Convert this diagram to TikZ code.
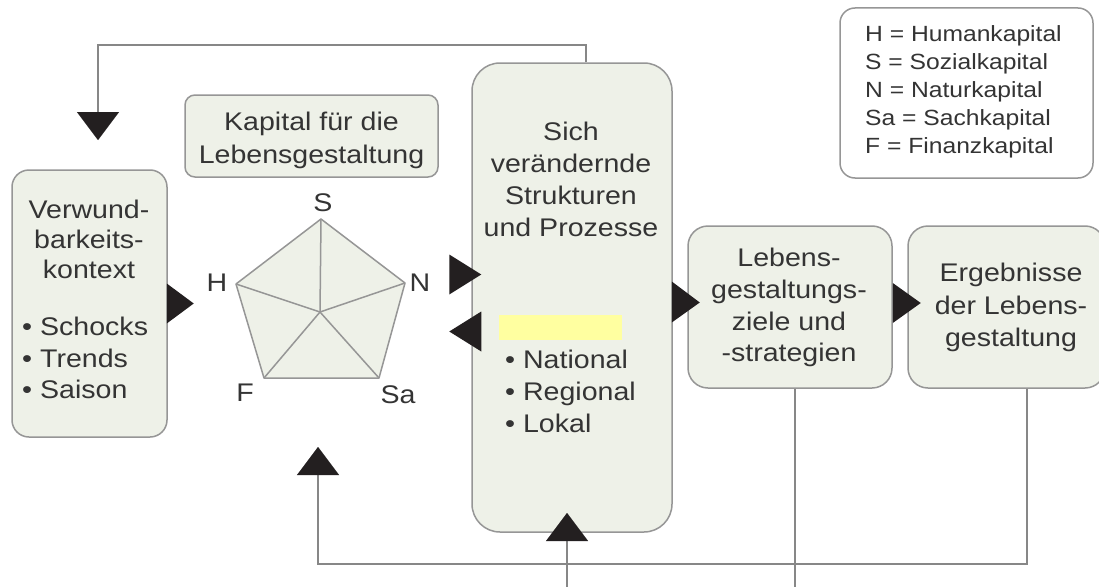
\documentclass[tikz,border=0pt]{standalone}
\usepackage{fontspec}
\setmainfont{Liberation Sans}[FakeStretch=1.12]
\usetikzlibrary{arrows.meta,calc}
\definecolor{boxfill}{RGB}{238,241,232}
\definecolor{boxline}{RGB}{150,150,150}
\definecolor{txtc}{RGB}{52,52,52}
\definecolor{arrowc}{RGB}{35,31,32}
\definecolor{linec}{RGB}{135,135,135}
\definecolor{hilite}{RGB}{255,255,160}
\begin{document}
\begin{tikzpicture}[x=1pt,y=-1pt,
  box/.style={draw=boxline, fill=boxfill, line width=1.5pt, inner sep=0pt, rectangle},
  txt/.style={text=txtc, inner sep=0pt, align=center, font=\fontsize{25.5pt}{32pt}\selectfont},
  lbl/.style={text=txtc, inner sep=0pt, font=\fontsize{25.5pt}{32pt}\selectfont},
  conn/.style={draw=linec, line width=2pt},
  bigtip/.style={-{Triangle[length=28pt,width=42pt,color=arrowc,line width=0.1pt]}},
  head/.style={fill=arrowc},
  penta/.style={draw=boxline, line width=1.5pt}
]
\useasboundingbox (0,0) rectangle (1099,586);
\fill[white] (0,0) rectangle (1099,586);

% boxes
\node[box, rounded corners=17pt, minimum width=155pt, minimum height=267pt] (verw) at (89.5,303.5) {};
\node[box, rounded corners=10pt, minimum width=253pt, minimum height=82pt] (kap) at (311.5,136) {};
\node[box, rounded corners=28pt, minimum width=200pt, minimum height=469pt] (sich) at (572,297.5) {};
\node[box, rounded corners=20pt, minimum width=204pt, minimum height=162pt] (leb) at (790,307) {};
\node[box, rounded corners=20pt, minimum width=197pt, minimum height=162pt] (erg) at (1006.5,307) {};
\node[box, fill=white, rounded corners=15pt, minimum width=253pt, minimum height=170pt] (leg) at (966.5,93) {};
\node[fill=hilite, inner sep=0pt, minimum width=123pt, minimum height=25pt] (yel) at (560.5,327.5) {};

% texts
\node[txt, anchor=north, font=\fontsize{25.5pt}{30pt}\selectfont] (verwt) at (89,200) {Verwund-\\barkeits-\\kontext};
\node[txt, anchor=north west, align=left, font=\fontsize{25.5pt}{31.5pt}\selectfont] (verwb) at (22,317) {• Schocks\\• Trends\\• Saison};
\node[txt, anchor=north, font=\fontsize{25.5pt}{33pt}\selectfont] (kapt) at (311.5,112) {Kapital für die\\Lebensgestaltung};
\node[txt, anchor=north] (sicht) at (571,122) {Sich\\verändernde\\Strukturen\\und Prozesse};
\node[txt, anchor=north west, align=left] (sichb) at (505,350) {• National\\• Regional\\• Lokal};
\node[txt, anchor=north, font=\fontsize{25.5pt}{31.7pt}\selectfont] (lebt) at (789,248) {Lebens-\\gestaltungs-\\ziele und\\-strategien};
\node[txt, anchor=north, font=\fontsize{25.5pt}{32.5pt}\selectfont] (ergt) at (1011,263) {Ergebnisse\\der Lebens-\\gestaltung};
\node[txt, anchor=north west, align=left, font=\fontsize{22pt}{28pt}\selectfont] (legt) at (865,25) {H = Humankapital\\S = Sozialkapital\\N = Naturkapital\\Sa = Sachkapital\\F = Finanzkapital};

% pentagon
\coordinate (pS) at (321,219);
\coordinate (pN) at (405,283);
\coordinate (pSa) at (379,378);
\coordinate (pF) at (264,378);
\coordinate (pH) at (236,284);
\coordinate (pC) at (320,312);
\filldraw[penta, fill=boxfill, line join=round] (pS) -- (pN) -- (pSa) -- (pF) -- (pH) -- cycle;
\foreach \v in {pS,pN,pSa,pF,pH} \draw[penta] (pC) -- (\v);
\node[lbl] (lS) at (323,203) {S};
\node[lbl] (lH) at (217,283) {H};
\node[lbl] (lN) at (420,283) {N};
\node[lbl] (lF) at (245,393) {F};
\node[lbl] (lSa) at (398,395) {Sa};

% feedback connectors
\coordinate (topx) at (586,0);
\coordinate (tipA) at (98,140);
\draw[conn, bigtip] (sich.north -| topx) |- (98,45) -- (tipA);
\coordinate (ergx) at (1027,0);
\coordinate (tipB) at (318,447);
\draw[conn, bigtip] (erg.south -| ergx) -- (1027,564) -| (tipB);
\coordinate (lebx) at (795,0);
\coordinate (lebend) at (795,592);
\draw[conn] (leb.south -| lebx) -- (lebend);
\coordinate (sichin) at (567,592);
\coordinate (tipC) at (567,513);
\draw[conn, bigtip] (sichin) -- (tipC);

% arrowheads between boxes
\fill[head] ($(verw.east)+(-1,-20)$) -- ($(verw.east)+(-1,20)$) -- ($(verw.east)+(26,0)$) -- cycle;
\fill[head] ($(sich.west)+(-22,-43)$) -- ($(sich.west)+(-22,-3)$) -- ($(sich.west)+(10,-23)$) -- cycle;
\fill[head] ($(sich.west)+(10,14)$) -- ($(sich.west)+(10,54)$) -- ($(sich.west)+(-22,34)$) -- cycle;
\fill[head] ($(sich.east)+(-1,-16)$) -- ($(sich.east)+(-1,25)$) -- ($(sich.east)+(27,5)$) -- cycle;
\fill[head] ($(leb.east)+(0,-24)$) -- ($(leb.east)+(0,16)$) -- ($(leb.east)+(28,-4)$) -- cycle;
\end{tikzpicture}
\end{document}
